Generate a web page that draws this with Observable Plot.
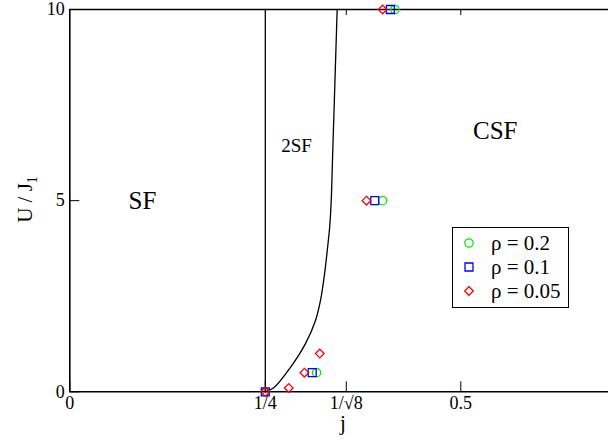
<!DOCTYPE html>
<html><head><meta charset="utf-8">
<script src="https://cdn.jsdelivr.net/npm/d3@7"></script>
<script src="https://cdn.jsdelivr.net/npm/@observablehq/plot@0.6"></script>
<style>body{margin:0;background:#fff} svg{overflow:hidden}</style>
</head><body><div id="chart"></div>
<script>
// Tick values and labels
const xTickValues = [0, 0.25, 1 / Math.sqrt(8), 0.5];
const xTickLabels = ["0", "1/4", "1/\u221A8", "0.5"];
const yTickValues = [0, 5, 10];

// Phase boundary curve (2SF | CSF)
const boundaryJ = [0.25, 0.2608, 0.2822, 0.3014, 0.3142, 0.3206, 0.3257, 0.3292, 0.3325, 0.3343, 0.3363, 0.3419];
const boundaryU = [0, 0.105, 0.64, 1.26, 1.865, 2.39, 3.07, 3.69, 4.35, 5.0, 6.31, 10];
// Vertical line at j = 1/4 (SF | 2SF)
const verticalJ = [0.25, 0.25];
const verticalU = [0, 10];

// Data series
const rho02J = [0.25, 0.3155, 0.400, 0.4156];
const rho02U = [0, 0.5, 5, 10];
const rho01J = [0.25, 0.310, 0.390, 0.410];
const rho01U = [0, 0.5, 5, 10];
const rho005J = [0.25, 0.280, 0.300, 0.3197, 0.3794, 0.400];
const rho005U = [0, 0.1, 0.5, 1.0, 5, 10];

// Region labels
const regionNames = ["SF", "2SF", "CSF"];
const regionJ = [0.093, 0.290, 0.544];
const regionU = [5.0, 6.44, 6.83];

// Legend
const legendNames = ["\u03C1 = 0.2", "\u03C1 = 0.1", "\u03C1 = 0.05"];
const legendColors = ["#00ee00", "#0000ff", "#ff0000"];
const legendSymbols = ["circle", "square", "diamond2"];

const zip = (xs, ys) => xs.map((x, i) => ({j: x, U: ys[i]}));
const boundary = zip(boundaryJ, boundaryU);
const vertical = zip(verticalJ, verticalU);
const s02 = zip(rho02J, rho02U);
const s01 = zip(rho01J, rho01U);
const s005 = zip(rho005J, rho005U);
const regions = regionNames.map((n, i) => ({name: n, j: regionJ[i], U: regionU[i]}));

const W = 608, H = 443;
const mL = 69.3, mT = 9, mB = 51.7;
const font = "'Liberation Serif', 'Times New Roman', serif";

const plot = Plot.plot({
  width: W, height: H,
  marginLeft: mL, marginRight: 0, marginTop: mT, marginBottom: mB,
  style: {fontFamily: font, fontSize: "18px", background: "#fff", color: "#000"},
  x: {domain: [0, 0.7], range: [mL, mL + 0.7 * 782]},
  y: {domain: [0, 10]},
  marks: [
    Plot.axisX({ticks: xTickValues, tickSize: 0, tickPadding: 4, tickFormat: (d, i) => xTickLabels[i], label: null, fontSize: 18}),
    Plot.axisX({ticks: xTickValues, tickSize: -10, tickFormat: () => "", label: null}),
    Plot.axisX({anchor: "top", ticks: xTickValues.slice(2), tickSize: -5, tickFormat: () => "", label: null}),
    Plot.axisY({ticks: yTickValues, tickSize: 0, tickPadding: 5, tickFormat: d => String(d), label: null, fontSize: 18}),
    Plot.axisY({ticks: yTickValues, tickSize: -10, tickFormat: () => "", label: null}),
    Plot.ruleY([0, 10], {stroke: "#000", strokeWidth: 1.6}),
    Plot.ruleX([0], {stroke: "#000", strokeWidth: 1.6}),
    Plot.line(vertical, {x: "j", y: "U", stroke: "#000", strokeWidth: 1.3}),
    Plot.line(boundary, {x: "j", y: "U", stroke: "#000", strokeWidth: 1.3, curve: "catmull-rom"}),
    Plot.text(regions, {x: "j", y: "U", text: "name", fontSize: d => d.name === "2SF" ? 19 : 25, fill: "#000"}),
    Plot.dot(s02, {x: "j", y: "U", symbol: "circle", r: 4.2, stroke: legendColors[0], strokeWidth: 1.3, fill: "none"}),
    Plot.dot(s01, {x: "j", y: "U", symbol: "square", r: 4.5, stroke: legendColors[1], strokeWidth: 1.3, fill: "none"}),
    Plot.dot(s005, {x: "j", y: "U", symbol: "diamond2", r: 3.9, stroke: legendColors[2], strokeWidth: 1.3, fill: "none"})
  ]
});

const svg = d3.select(plot);
const xs = plot.scale("x");
// x axis label
svg.append("text").attr("x", xs.apply(0.35)).attr("y", 430)
  .attr("text-anchor", "middle").style("font-size", "21px").style("font-family", font).text("j");
// y axis label with subscript
const yl = svg.append("text").attr("transform", "translate(31.5,199.5) rotate(-90)")
  .attr("text-anchor", "middle").style("font-size", "21px").style("font-family", font);
yl.append("tspan").text("U / J");
yl.append("tspan").style("font-size", "14px").attr("dy", 5).text("1");

// Legend box
const lg = svg.append("g");
lg.append("rect").attr("x", 452.5).attr("y", 227.5).attr("width", 116).attr("height", 80)
  .attr("fill", "#fff").attr("stroke", "#000").attr("stroke-width", 1);
const symMap = {circle: d3.symbolCircle, square: d3.symbolSquare, diamond2: d3.symbolDiamond2};
const symR = [4.2, 4.5, 3.9];
legendNames.forEach((name, i) => {
  const cy = 243 + i * 24;
  lg.append("path").attr("transform", `translate(469,${cy})`)
    .attr("d", d3.symbol(symMap[legendSymbols[i]], Math.PI * symR[i] * symR[i])())
    .attr("fill", "none").attr("stroke", legendColors[i]).attr("stroke-width", 1.3);
  lg.append("text").attr("x", 491).attr("y", cy + 6.5).attr("text-anchor", "start")
    .style("font-size", "21px").style("font-family", font).text(name);
});

document.getElementById("chart").appendChild(plot);
</script></body></html>
